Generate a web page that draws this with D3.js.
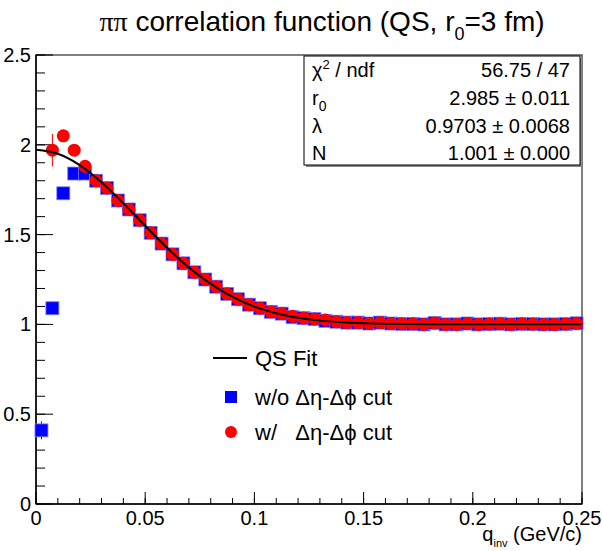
<!DOCTYPE html>
<html>
<head>
<meta charset="utf-8">
<script src="https://cdn.jsdelivr.net/npm/d3@7"></script>
<style>
  body { margin: 0; background: #fff; }
  text { font-family: "Liberation Sans", Arial, sans-serif; }
</style>
</head>
<body>
<div id="chart"></div>
<script>
// bin centres of q_inv (GeV/c)
const qBins = [0.0025, 0.0075, 0.0125, 0.0175, 0.0225, 0.0275, 0.0325, 0.0375, 0.0425, 0.0475,
  0.0525, 0.0575, 0.0625, 0.0675, 0.0725, 0.0775, 0.0825, 0.0875, 0.0925, 0.0975,
  0.1025, 0.1075, 0.1125, 0.1175, 0.1225, 0.1275, 0.1325, 0.1375, 0.1425, 0.1475,
  0.1525, 0.1575, 0.1625, 0.1675, 0.1725, 0.1775, 0.1825, 0.1875, 0.1925, 0.1975,
  0.2025, 0.2075, 0.2125, 0.2175, 0.2225, 0.2275, 0.2325, 0.2375, 0.2425, 0.2475];

// w/o deta-dphi cut
const noCut = [0.41, 1.09, 1.73, 1.84, 1.84, 1.80, 1.76, 1.69, 1.64, 1.58,
  1.51, 1.45, 1.39, 1.34, 1.29, 1.25, 1.21, 1.17, 1.14, 1.11,
  1.09, 1.07, 1.06, 1.04, 1.035, 1.03, 1.02, 1.015, 1.01, 1.01,
  1.005, 1.01, 1.005, 1.003, 1.003, 1.0, 1.008, 1.0, 1.0, 1.005,
  1.0, 1.002, 1.004, 1.0, 1.003, 1.002, 1.0, 1.0, 1.002, 1.006];
const noCutErr = [0.05, 0.03, 0.02, 0.015, 0.012, 0.01, 0.01, 0.008, 0.008, 0.007,
  0.006, 0.006, 0.005, 0.005, 0.005, 0.004, 0.004, 0.004, 0.004, 0.003,
  0.003, 0.003, 0.003, 0.003, 0.003, 0.003, 0.003, 0.003, 0.003, 0.003,
  0.003, 0.003, 0.003, 0.003, 0.003, 0.003, 0.003, 0.003, 0.003, 0.003,
  0.003, 0.003, 0.003, 0.003, 0.003, 0.003, 0.003, 0.003, 0.003, 0.003];

// w/ deta-dphi cut (first bin empty)
const withCut = [null, 1.97, 2.05, 1.97, 1.88, 1.80, 1.76, 1.69, 1.64, 1.58,
  1.51, 1.45, 1.39, 1.34, 1.29, 1.25, 1.21, 1.17, 1.14, 1.11,
  1.09, 1.07, 1.06, 1.045, 1.035, 1.03, 1.025, 1.015, 1.01, 1.01,
  1.005, 1.01, 1.005, 1.003, 1.003, 1.0, 1.008, 1.0, 1.0, 1.005,
  1.0, 1.002, 1.004, 1.0, 1.003, 1.002, 1.0, 1.0, 1.002, 1.006];
const withCutErr = [0, 0.09, 0.03, 0.02, 0.015, 0.012, 0.01, 0.008, 0.008, 0.007,
  0.006, 0.006, 0.005, 0.005, 0.005, 0.004, 0.004, 0.004, 0.004, 0.003,
  0.003, 0.003, 0.003, 0.003, 0.003, 0.003, 0.003, 0.003, 0.003, 0.003,
  0.003, 0.003, 0.003, 0.003, 0.003, 0.003, 0.003, 0.003, 0.003, 0.003,
  0.003, 0.003, 0.003, 0.003, 0.003, 0.003, 0.003, 0.003, 0.003, 0.003];

// QS fit curve, read at every 0.01
const fitQ = [0, 0.01, 0.02, 0.03, 0.04, 0.05, 0.06, 0.07, 0.08, 0.09, 0.10, 0.11, 0.12,
  0.13, 0.14, 0.15, 0.16, 0.17, 0.18, 0.19, 0.20, 0.21, 0.22, 0.23, 0.24, 0.25];
const fitC = [1.972, 1.950, 1.887, 1.791, 1.674, 1.549, 1.427, 1.317, 1.226, 1.153, 1.099, 1.062, 1.037,
  1.021, 1.012, 1.007, 1.004, 1.002, 1.001, 1.001, 1.001, 1.001, 1.001, 1.001, 1.001, 1.001];

const xTicks = [0, 0.05, 0.1, 0.15, 0.2, 0.25];
const xTickLabels = ["0", "0.05", "0.1", "0.15", "0.2", "0.25"];
const yTicks = [0, 0.5, 1, 1.5, 2, 2.5];
const yTickLabels = ["0", "0.5", "1", "1.5", "2", "2.5"];

const statNames = ["χ2 / ndf", "r0", "λ", "N"];
const statValues = ["56.75 / 47", "2.985 ± 0.011", "0.9703 ± 0.0068", "1.001 ± 0.000"];

const W = 602, H = 551;
const margin = { top: 55, right: 20, bottom: 47, left: 36 };
const iw = W - margin.left - margin.right;
const ih = H - margin.top - margin.bottom;

const svg = d3.select("#chart").append("svg")
  .attr("width", W).attr("height", H);

const x = d3.scaleLinear().domain([0, 0.25]).range([margin.left, margin.left + iw]);
const y = d3.scaleLinear().domain([0, 2.5]).range([margin.top + ih, margin.top]);

// title
const title = svg.append("text")
  .attr("x", 322).attr("y", 31)
  .attr("text-anchor", "middle")
  .style("font-size", "28px");
title.append("tspan").style("font-family", "'Liberation Serif', serif").text("ππ");
title.append("tspan").text(" correlation function (QS, r");
title.append("tspan").attr("dy", 9).style("font-size", "18px").text("0");
title.append("tspan").attr("dy", -9).text("=3 fm)");

// frame
svg.append("rect")
  .attr("x", margin.left).attr("y", margin.top)
  .attr("width", iw).attr("height", ih)
  .attr("fill", "none").attr("stroke", "#555").attr("stroke-width", 1.5);

// y axis ticks (inside)
const yAxis = svg.append("g");
const yMinor = d3.range(0, 2.51, 0.1);
yAxis.selectAll(".ym").data(yMinor).enter().append("line")
  .attr("x1", margin.left).attr("x2", margin.left + 9)
  .attr("y1", d => y(d)).attr("y2", d => y(d))
  .attr("stroke", "#000");
yAxis.selectAll(".yM").data(yTicks).enter().append("line")
  .attr("x1", margin.left).attr("x2", margin.left + 17)
  .attr("y1", d => y(d)).attr("y2", d => y(d))
  .attr("stroke", "#000");
yAxis.selectAll(".yl").data(yTicks).enter().append("text")
  .attr("x", margin.left - 5).attr("y", d => y(d) + 7)
  .attr("text-anchor", "end")
  .style("font-size", "20px")
  .text((d, i) => yTickLabels[i]);
yAxis.append("line")
  .attr("x1", margin.left).attr("x2", margin.left)
  .attr("y1", margin.top).attr("y2", margin.top + ih)
  .attr("stroke", "#000").attr("stroke-width", 1.5);

// x axis ticks (inside)
const xAxis = svg.append("g");
const xMinor = d3.range(0, 0.2501, 0.01);
xAxis.selectAll(".xm").data(xMinor).enter().append("line")
  .attr("x1", d => x(d)).attr("x2", d => x(d))
  .attr("y1", y(0)).attr("y2", y(0) - 6)
  .attr("stroke", "#000");
xAxis.selectAll(".xM").data(xTicks).enter().append("line")
  .attr("x1", d => x(d)).attr("x2", d => x(d))
  .attr("y1", y(0)).attr("y2", y(0) - 12)
  .attr("stroke", "#000");
xAxis.selectAll(".xl").data(xTicks).enter().append("text")
  .attr("x", d => x(d)).attr("y", y(0) + 21)
  .attr("text-anchor", "middle")
  .style("font-size", "20px")
  .text((d, i) => xTickLabels[i]);
xAxis.append("line")
  .attr("x1", margin.left).attr("x2", margin.left + iw)
  .attr("y1", y(0)).attr("y2", y(0))
  .attr("stroke", "#000").attr("stroke-width", 1.5);

// x title
const xt = svg.append("text")
  .attr("x", x(0.25)).attr("y", 541)
  .attr("text-anchor", "end")
  .style("font-size", "20px");
xt.append("tspan").text("q");
xt.append("tspan").attr("dy", 6).style("font-size", "11px").text("inv");
xt.append("tspan").attr("dy", -6).text(" (GeV/c)");

// blue points
const blue = qBins.map((q, i) => ({ q, v: noCut[i], e: noCutErr[i] }));
const red = qBins.map((q, i) => ({ q, v: withCut[i], e: withCutErr[i] })).filter(d => d.v !== null);

svg.selectAll(".be").data(blue).enter().append("line")
  .attr("x1", d => x(d.q)).attr("x2", d => x(d.q))
  .attr("y1", d => y(d.v - d.e)).attr("y2", d => y(d.v + d.e))
  .attr("stroke", "#0000ff");
svg.selectAll(".bp").data(blue).enter().append("rect")
  .attr("x", d => x(d.q) - 6.5).attr("y", d => y(d.v) - 6.5)
  .attr("width", 13).attr("height", 13)
  .attr("fill", "#0000ff").attr("stroke", "#8080ff").attr("stroke-width", 0.8);

// red points
svg.selectAll(".re").data(red).enter().append("line")
  .attr("x1", d => x(d.q)).attr("x2", d => x(d.q))
  .attr("y1", d => y(d.v - d.e)).attr("y2", d => y(d.v + d.e))
  .attr("stroke", "#ff0000");
svg.selectAll(".rp").data(red).enter().append("circle")
  .attr("cx", d => x(d.q)).attr("cy", d => y(d.v))
  .attr("r", 6.5)
  .attr("fill", "#ff0000");

// fit curve
const line = d3.line()
  .x((d, i) => x(fitQ[i]))
  .y(d => y(d))
  .curve(d3.curveMonotoneX);
svg.append("path")
  .datum(fitC)
  .attr("d", line)
  .attr("fill", "none").attr("stroke", "#000").attr("stroke-width", 2);

// stats box
const sb = { x: 304, y: 56, w: 276, h: 109 };
svg.append("rect")
  .attr("x", sb.x + 2).attr("y", sb.y + 2).attr("width", sb.w).attr("height", sb.h)
  .attr("fill", "#888");
svg.append("rect")
  .attr("x", sb.x).attr("y", sb.y).attr("width", sb.w).attr("height", sb.h)
  .attr("fill", "#fff").attr("stroke", "#000").attr("stroke-width", 1);
const rowY = [77, 105, 133, 160];
statNames.forEach((n, i) => {
  const t = svg.append("text")
    .attr("x", sb.x + 8).attr("y", rowY[i])
    .style("font-size", "20px");
  if (i === 0) {
    t.append("tspan").text("χ");
    t.append("tspan").attr("dy", -8).style("font-size", "13px").text("2");
    t.append("tspan").attr("dy", 8).text(" / ndf");
  } else if (i === 1) {
    t.append("tspan").text("r");
    t.append("tspan").attr("dy", 6).style("font-size", "14px").text("0");
  } else {
    t.text(n);
  }
  svg.append("text")
    .attr("x", sb.x + sb.w - 10).attr("y", rowY[i])
    .attr("text-anchor", "end")
    .style("font-size", "20px")
    .text(statValues[i]);
});

// legend
const lg = svg.append("g");
lg.append("line").attr("x1", 213).attr("x2", 247).attr("y1", 358).attr("y2", 358)
  .attr("stroke", "#000").attr("stroke-width", 2);
lg.append("text").attr("x", 255).attr("y", 366).style("font-size", "22px").text("QS Fit");
lg.append("rect").attr("x", 225).attr("y", 391).attr("width", 12).attr("height", 12)
  .attr("fill", "#0000ff");
lg.append("text").attr("x", 255).attr("y", 405).style("font-size", "22px").text("w/o Δη-Δϕ cut");
lg.append("circle").attr("cx", 231).attr("cy", 432).attr("r", 6).attr("fill", "#ff0000");
lg.append("text").attr("x", 255).attr("y", 440).style("font-size", "22px")
  .attr("xml:space", "preserve").style("white-space", "pre").text("w/   Δη-Δϕ cut");
</script>
</body>
</html>
